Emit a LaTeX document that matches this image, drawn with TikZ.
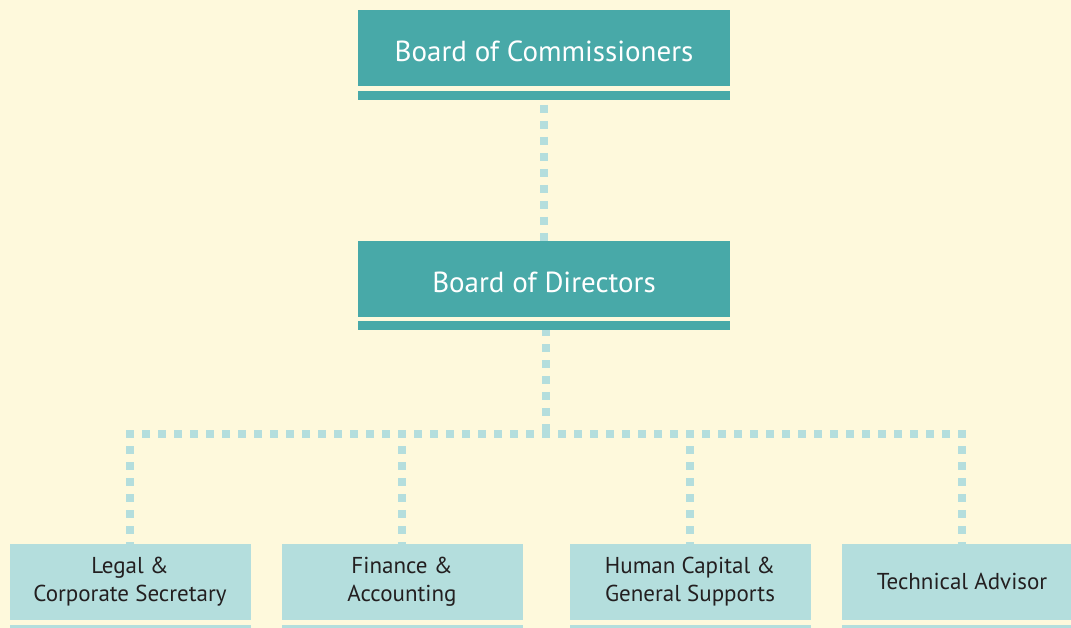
\documentclass[tikz,border=0pt]{standalone}
\usepackage{fontspec}
\setmainfont{PT Sans}
\definecolor{bgc}{HTML}{FEF9DC}
\definecolor{darkteal}{HTML}{48A9A8}
\definecolor{lightteal}{HTML}{B4DEDD}
\definecolor{ink}{HTML}{231F20}
\pgfdeclarelayer{bglayer}
\pgfdeclarelayer{connlayer}
\pgfsetlayers{bglayer,connlayer,main}
\begin{document}
\begin{tikzpicture}[x=1pt,y=-1pt,
  topbox/.style={fill=darkteal, text=white, minimum width=372pt, minimum height=76pt, inner sep=0pt, anchor=north, text height=26pt, text depth=0pt, font=\fontsize{29}{35}\selectfont},
  topbar/.style={fill=darkteal, minimum width=372pt, minimum height=9pt, inner sep=0pt, anchor=north},
  subbox/.style={fill=lightteal, text=ink, minimum width=241pt, minimum height=75.5pt, inner sep=0pt, anchor=north, align=center, font=\fontsize{23}{28}\selectfont},
  subbar/.style={fill=lightteal, minimum width=241pt, minimum height=9pt, inner sep=0pt, anchor=north},
  dotline/.style={draw=lightteal, line width=8pt, dash pattern=on 8pt off 8pt, line cap=butt}
]
\begin{pgfonlayer}{bglayer}
\fill[bgc] (0,0) rectangle (1071,628);
\end{pgfonlayer}
\useasboundingbox (0,0) rectangle (1071,628);

\coordinate (tA) at (544,105);
\coordinate (dA) at (546,328);
\coordinate (hl) at (126,434);
\coordinate (hr) at (966,434);
\coordinate (j1) at (130,446);
\coordinate (j2) at (402,446);
\coordinate (j3) at (690,446);
\coordinate (j4) at (962,446);

\node[topbox] (comm) at (544,10) {Board of Commissioners};
\node[topbar] (commbar) at (544,91) {};
\node[topbox] (dir) at (544,241) {Board of Directors};
\node[topbar] (dirbar) at (544,321) {};

\node[subbox] (legal) at (130,544) {Legal \&\\Corporate Secretary};
\node[subbar] (legalbar) at (130,625) {};
\node[subbox] (fin) at (402,544) {Finance \&\\Accounting};
\node[subbar] (finbar) at (402,625) {};
\node[subbox] (hc) at (690,544) {Human Capital \&\\General Supports};
\node[subbar] (hcbar) at (690,625) {};
\node[subbox] (tech) at (962,544) {Technical Advisor};
\node[subbar] (techbar) at (962,625) {};

\begin{pgfonlayer}{connlayer}
\draw[dotline] (tA) -- (tA |- dir.north);
\draw[dotline] (dA) -- (dA |- hl);
\draw[dotline] (hl) -- (hr);
\draw[dotline] (j1) -- (j1 |- legal.north);
\draw[dotline] (j2) -- (j2 |- fin.north);
\draw[dotline] (j3) -- (j3 |- hc.north);
\draw[dotline] (j4) -- (j4 |- tech.north);
\end{pgfonlayer}
\end{tikzpicture}
\end{document}
